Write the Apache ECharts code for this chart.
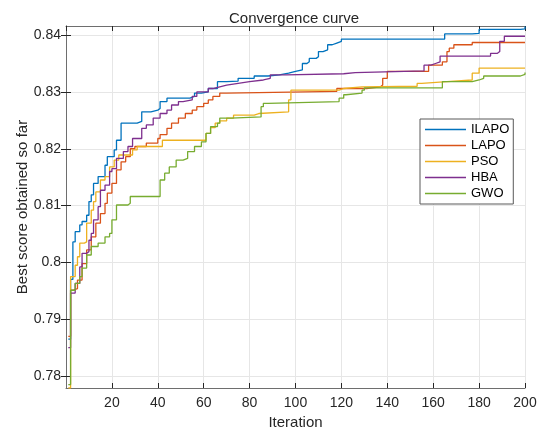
<!DOCTYPE html>
<html>
<head>
    <meta charset="utf-8" />
    <title>Convergence curve</title>
    <script src="https://cdn.jsdelivr.net/npm/echarts@6/dist/echarts.min.js"></script>
    <style>
        body { margin: 0; background: #fff; }
    </style>
</head>
<body>
<div id="main" style="width:539px;height:432px;"></div>

<script type="text/javascript">
    // best score so far as [iteration, value] where the value changes
    var ilapo = [[1,0.7865],[2,0.7970],[3,0.8036],[4,0.8054],[6,0.8066],[7,0.8072],[9,0.8083],[10,0.8107],
        [11,0.8119],[12,0.8139],[14,0.8151],[17,0.8171],[18,0.8186],[21,0.8198],[22,0.8215],[24,0.8245],
        [31,0.8248],[33,0.8265],[37,0.8268],[40,0.8271],[41,0.8283],[44,0.8289],[54,0.8292],[56,0.8298],
        [59,0.8300],[62,0.8306],[66,0.8318],[70,0.8319],[75,0.8324],[82,0.8328],[88,0.8330],[93,0.8333],
        [97,0.8336],[100,0.8339],[103,0.8350],[105,0.8353],[106,0.8359],[109,0.8362],[110,0.8371],
        [112,0.8374],[114,0.8383],[116,0.8386],[118,0.8389],[120,0.8393],[165,0.8402],[177,0.8403],
        [180,0.8410],[198,0.8411],[200,0.8415]];
    var lapo = [[1,0.7870],[2,0.7951],[3,0.7954],[5,0.7969],[7,0.7998],[9,0.8022],[11,0.8045],[13,0.8069],
        [15,0.8086],[17,0.8104],[18,0.8122],[20,0.8139],[22,0.8163],[24,0.8177],[26,0.8186],[28,0.8200],
        [30,0.8204],[35,0.8210],[40,0.8218],[41,0.8225],[44,0.8236],[46,0.8245],[49,0.8254],[52,0.8262],
        [55,0.8268],[57,0.8274],[60,0.8280],[62,0.8286],[64,0.8292],[67,0.8298],[70,0.8301],[118,0.8306],
        [131,0.8309],[137,0.8312],[138,0.8324],[140,0.8336],[158,0.8347],[164,0.8353],[166,0.8371],
        [167,0.8377],[169,0.8383],[177,0.8387],[200,0.8387]];
    var pso = [[1,0.7779],[2,0.7975],[4,0.7995],[5,0.8010],[6,0.8034],[8,0.8036],[9,0.8069],[11,0.8092],
        [12,0.8107],[13,0.8124],[15,0.8145],[17,0.8151],[19,0.8168],[21,0.8180],[23,0.8189],[29,0.8198],
        [31,0.8204],[42,0.8215],[61,0.8227],[63,0.8237],[65,0.8245],[67,0.8249],[70,0.8254],[73,0.8259],
        [82,0.8262],[84,0.8265],[97,0.8286],[98,0.8303],[119,0.8306],[121,0.8309],[129,0.8310],
        [153,0.8315],[155,0.8318],[166,0.8321],[177,0.8333],[180,0.8342],[200,0.8342]];
    var hba = [[1,0.7850],[2,0.7946],[4,0.7963],[6,0.7992],[7,0.8016],[9,0.8019],[10,0.8039],[11,0.8051],
        [12,0.8075],[14,0.8098],[15,0.8127],[17,0.8136],[19,0.8160],[20,0.8165],[22,0.8183],[25,0.8195],
        [27,0.8204],[29,0.8218],[33,0.8236],[35,0.8242],[38,0.8254],[41,0.8262],[44,0.8268],[46,0.8277],
        [49,0.8283],[51,0.8286],[55,0.8292],[57,0.8300],[62,0.8306],[64,0.8309],[67,0.8312],[70,0.8315],
        [75,0.8318],[80,0.8321],[86,0.8324],[89,0.8330],[96,0.8332],[121,0.8334],[126,0.8337],
        [156,0.8347],[159,0.8350],[161,0.8353],[163,0.8363],[185,0.8368],[188,0.8371],[189,0.8389],
        [191,0.8398],[200,0.8398]];
    var gwo = [[1,0.7785],[2,0.7951],[4,0.7963],[6,0.7975],[7,0.7990],[9,0.8013],[11,0.8028],[14,0.8034],
        [17,0.8045],[19,0.8051],[20,0.8075],[22,0.8101],[27,0.8104],[28,0.8116],[41,0.8145],[43,0.8157],
        [45,0.8168],[48,0.8180],[51,0.8183],[53,0.8195],[56,0.8204],[59,0.8212],[61,0.8227],[63,0.8239],
        [66,0.8245],[67,0.8254],[72,0.8256],[85,0.8274],[86,0.8280],[88,0.8283],[119,0.8289],[121,0.8295],
        [122,0.8298],[129,0.8303],[130,0.8307],[164,0.8318],[177,0.8321],[180,0.8324],[182,0.8328],
        [198,0.8331],[200,0.8334]];

    var names = ['ILAPO', 'LAPO', 'PSO', 'HBA', 'GWO'];
    var curves = [ilapo, lapo, pso, hba, gwo];
    var colors = ['#0072BD', '#D95319', '#EDB120', '#7E2F8E', '#77AC30'];
    var yTicks = [0.78, 0.79, 0.80, 0.81, 0.82, 0.83, 0.84];
    var yMin = 0.7779, yMax = 0.8416;

    var font = 'Liberation Sans, Arial, Helvetica, sans-serif';
    var ink = '#262626';
    var boxColor = '#6e6e6e';

    var myChart = echarts.init(document.getElementById('main'));

    var series = names.map(function (n, i) {
        return {
            name: n,
            type: 'line',
            data: curves[i],
            step: 'end',
            symbol: 'none',
            showSymbol: false,
            color: colors[i],
            lineStyle: { width: 1.3, color: colors[i] }
        };
    });

    var option = {
        animation: false,
        backgroundColor: '#fff',
        textStyle: { fontFamily: font },
        title: {
            text: 'Convergence curve',
            left: 229,
            top: 11,
            padding: 0,
            textStyle: { fontSize: 15, fontWeight: 'normal', color: ink, fontFamily: font }
        },
        grid: { left: 66, right: 14, top: 26, bottom: 44, containLabel: false, outerBoundsMode: 'none' },
        legend: {
            orient: 'vertical',
            left: 420,
            top: 119,
            padding: [4, 4, 4, 5],
            icon: 'rect',
            itemWidth: 41,
            itemHeight: 1.5,
            itemGap: 3,
            itemTextGap: 4,
            backgroundColor: '#fff',
            borderColor: '#595959',
            borderWidth: 1,
            textStyle: { fontSize: 13, color: '#000', fontFamily: font },
            data: names
        },
        xAxis: [
            {
                type: 'value',
                position: 'bottom',
                min: 0, max: 200, interval: 20,
                name: 'Iteration',
                nameLocation: 'middle',
                nameGap: 27,
                nameMoveOverlap: false,
                nameTextStyle: { fontSize: 15, color: ink, fontFamily: font },
                axisLine: { show: true, lineStyle: { color: boxColor, width: 1 } },
                axisTick: { show: true, inside: true, length: 5, lineStyle: { color: ink } },
                axisLabel: { showMinLabel: false, fontSize: 14, color: ink, margin: 8, fontFamily: font },
                splitLine: { show: true, lineStyle: { color: '#e6e6e6', width: 1 } }
            },
            {
                type: 'value',
                position: 'top',
                min: 0, max: 200, interval: 20,
                axisLine: { show: true, lineStyle: { color: boxColor, width: 1 } },
                axisTick: { show: true, inside: true, length: 5, lineStyle: { color: ink } },
                axisLabel: { show: false },
                splitLine: { show: false }
            }
        ],
        yAxis: [
            {
                type: 'value',
                position: 'left',
                min: yMin, max: yMax,
                name: 'Best score obtained so far',
                nameLocation: 'middle',
                nameGap: 36,
                nameMoveOverlap: false,
                nameTextStyle: { fontSize: 15, color: ink, fontFamily: font },
                axisLine: { show: true, lineStyle: { color: boxColor, width: 1 } },
                axisTick: { show: true, inside: true, length: 5, customValues: yTicks, lineStyle: { color: ink } },
                axisLabel: {
                    customValues: yTicks,
                    fontSize: 14, color: ink, margin: 5, fontFamily: font,
                    formatter: function (v) { return String(+v.toFixed(2)); }
                },
                splitLine: { show: true, lineStyle: { color: '#e6e6e6', width: 1 } }
            },
            {
                type: 'value',
                position: 'right',
                min: yMin, max: yMax,
                axisLine: { show: true, lineStyle: { color: boxColor, width: 1 } },
                axisTick: { show: true, inside: true, length: 5, customValues: yTicks, lineStyle: { color: ink } },
                axisLabel: { show: false },
                splitLine: { show: false }
            }
        ],
        series: series
    };

    myChart.setOption(option);
</script>
</body>
</html>
